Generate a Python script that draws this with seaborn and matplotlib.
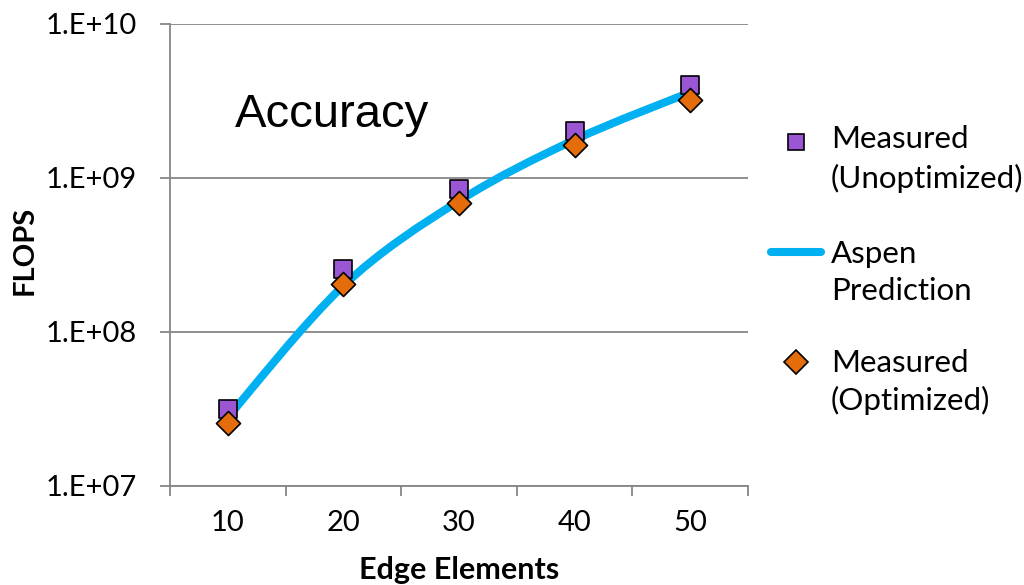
import numpy as np
import matplotlib
matplotlib.use("Agg")
import matplotlib.pyplot as plt
import seaborn as sns
from matplotlib.path import Path
from matplotlib.patches import PathPatch
from matplotlib.lines import Line2D
from matplotlib.ticker import FixedLocator, FixedFormatter, NullLocator

# ---- data ----
edge_elements = [10, 20, 30, 40, 50]
measured_unopt = [3.15e7, 2.57e8, 8.5e8, 2.02e9, 4.0e9]
aspen_prediction = [2.8e7, 2.0e8, 7.1e8, 1.77e9, 3.6e9]
measured_opt = [2.56e7, 2.05e8, 6.9e8, 1.64e9, 3.2e9]
x_tick_labels = ["10", "20", "30", "40", "50"]
y_ticks = [1e7, 1e8, 1e9, 1e10]
y_tick_labels = ["1.E+07", "1.E+08", "1.E+09", "1.E+10"]
legend_labels = [["Measured", "(Unoptimized)"], ["Aspen", "Prediction"], ["Measured", "(Optimized)"]]

# ---- style ----
sns.set_theme(style="white")
plt.rcParams["font.family"] = ["Lato", "DejaVu Sans"]
FS = 21
FS_LEG = 22.5
FS_LAB = 22
GRAY = "#868686"
PURPLE = "#9B57D3"
ORANGE = "#E46C0A"
BLUE = "#00B0F0"

W, H = 1024, 585
fig = plt.figure(figsize=(W / 100, H / 100), dpi=100)
ax = fig.add_axes([170 / W, 1 - 486 / H, (748 - 170) / W, (486 - 24) / H])
ax.set_yscale("log")
ax.set_xlim(5, 55)
ax.set_ylim(1e7, 1e10)

# smoothed prediction line (Excel-like Catmull-Rom bezier in x / log-y space)
pts = np.column_stack([np.asarray(edge_elements, float), np.log10(aspen_prediction)])
n = len(pts)
verts = [pts[0]]
codes = [Path.MOVETO]
for i in range(n - 1):
    p0 = pts[max(i - 1, 0)]
    p1 = pts[i]
    p2 = pts[i + 1]
    p3 = pts[min(i + 2, n - 1)]
    verts += [p1 + (p2 - p0) / 6, p2 - (p3 - p1) / 6, p2]
    codes += [Path.CURVE4] * 3
verts = np.array(verts)
verts[:, 1] = 10 ** verts[:, 1]
ax.add_patch(PathPatch(Path(verts, codes), fill=False, edgecolor=BLUE, lw=5.8,
                       capstyle="round", joinstyle="round", zorder=2))

sns.scatterplot(x=edge_elements, y=measured_unopt, marker="s", s=150, color=PURPLE,
                edgecolor="black", linewidth=1.2, zorder=3, ax=ax, legend=False)
sns.scatterplot(x=edge_elements, y=measured_opt, marker="D", s=150, color=ORANGE,
                edgecolor="black", linewidth=1.2, zorder=4, ax=ax, legend=False)

# axes styling
ax.yaxis.set_major_locator(FixedLocator(y_ticks))
ax.yaxis.set_major_formatter(FixedFormatter(y_tick_labels))
ax.yaxis.set_minor_locator(NullLocator())
ax.set_xticks(edge_elements)
ax.set_xticklabels(x_tick_labels)
ax.set_xticks(np.arange(5, 56, 10), minor=True)
ax.tick_params(axis="x", which="major", length=0, pad=17, labelsize=FS, labelcolor="black")
ax.tick_params(axis="x", which="minor", bottom=True, length=7, width=1.3, color=GRAY, direction="out")
ax.tick_params(axis="y", which="major", left=True, length=7, width=1.3, color=GRAY,
               direction="out", pad=17, labelsize=FS, labelcolor="black")
ax.grid(axis="y", color=GRAY, lw=1.3)
ax.grid(axis="x", visible=False)
ax.set_axisbelow(True)
for s in ["top", "right"]:
    ax.spines[s].set_visible(False)
for s in ["left", "bottom"]:
    ax.spines[s].set_color(GRAY)
    ax.spines[s].set_linewidth(1.3)

ax.set_xlabel("Edge Elements", fontsize=FS_LAB, fontweight="bold", color="black")
ax.set_ylabel("FLOPS", fontsize=FS, fontweight="bold", color="black")
ax.xaxis.set_label_coords(0.5, (486 - 570) / 462)
ax.xaxis.label.set_va("center")
ax.yaxis.set_label_coords((25 - 170) / 578, (486 - 250) / 462)
ax.yaxis.label.set_va("center")

ax.text((235 - 170) / 578, (486 - 115) / 462, "Accuracy", transform=ax.transAxes,
        fontsize=34, family=["Liberation Sans", "DejaVu Sans"], va="center", ha="left", color="black")

# legend (manual, handles aligned with first text line)
def fx(px):
    return px / W

def fy(py):
    return 1 - py / H

fig.add_artist(Line2D([fx(796)], [fy(142)], transform=fig.transFigure, marker="s", ms=12,
                      mfc=PURPLE, mec="black", mew=1.2, ls="none"))
fig.add_artist(Line2D([fx(771), fx(821)], [fy(252), fy(252)], transform=fig.transFigure,
                      color=BLUE, lw=5.8, solid_capstyle="round"))
fig.add_artist(Line2D([fx(796)], [fy(362)], transform=fig.transFigure, marker="D", ms=12,
                      mfc=ORANGE, mec="black", mew=1.2, ls="none"))
baselines = [(148, 188), (263, 300), (372, 410)]
for (l1, l2), (b1, b2) in zip(legend_labels, baselines):
    fig.text(fx(831), fy(b1), l1, fontsize=FS_LEG, va="baseline", ha="left", color="black")
    fig.text(fx(831), fy(b2), l2, fontsize=FS_LEG, va="baseline", ha="left", color="black")

fig.savefig("out.png", dpi=100)
